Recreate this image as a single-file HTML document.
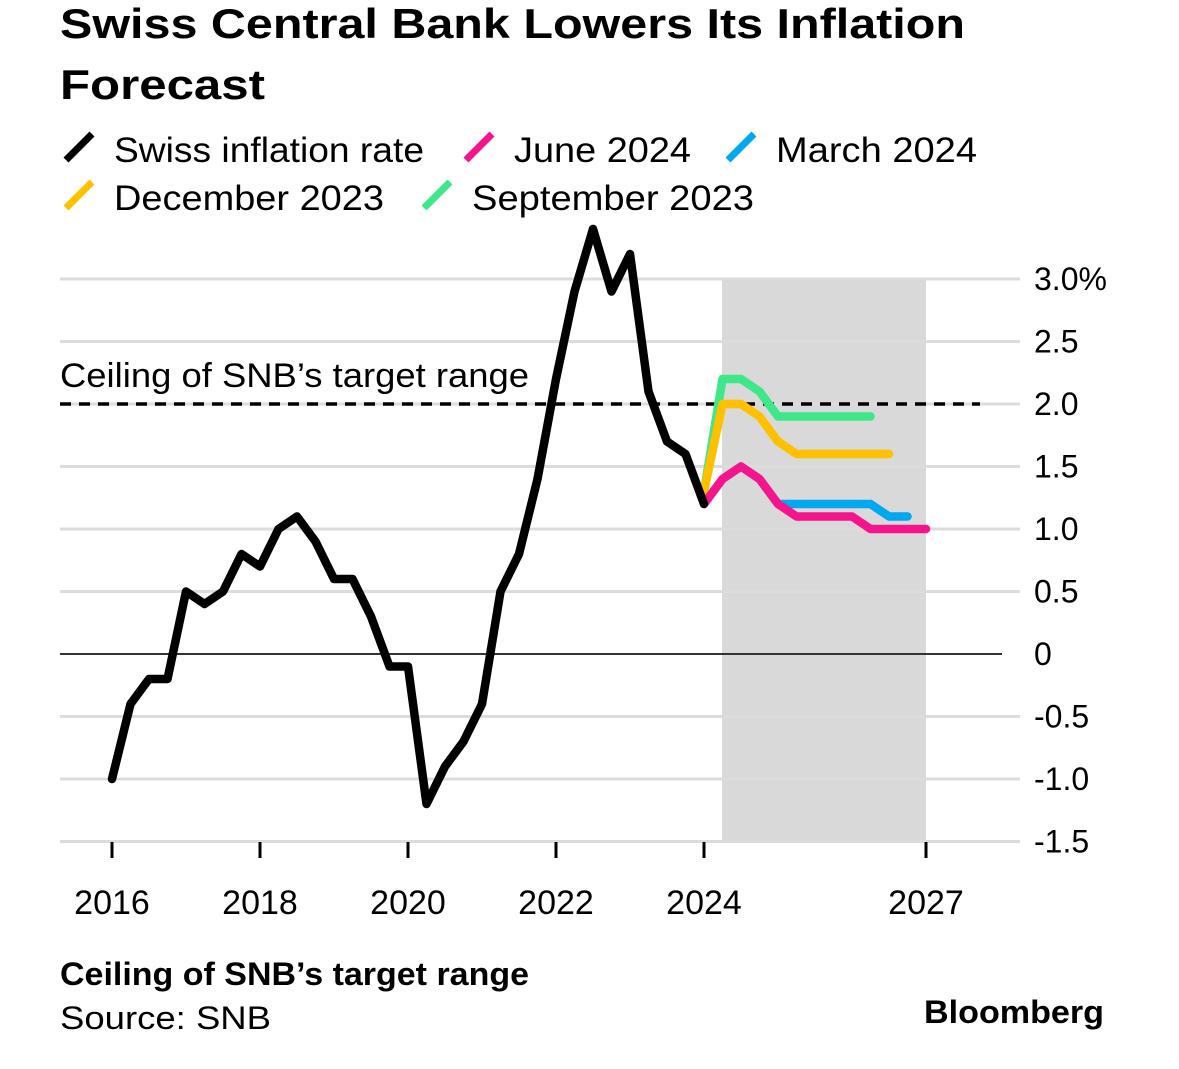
<!DOCTYPE html>
<html><head><meta charset="utf-8"><style>
body{margin:0;background:#fff;width:1179px;height:1069px;overflow:hidden;font-family:"Liberation Sans",Arial,sans-serif}
svg{position:absolute;left:0;top:0}
</style></head><body>
<svg width="1179" height="1069">
<text x="60" y="38" font-size="42" font-weight="bold" fill="#000" textLength="905" lengthAdjust="spacingAndGlyphs">Swiss Central Bank Lowers Its Inflation</text>
<text x="60" y="99" font-size="42" font-weight="bold" fill="#000" textLength="205" lengthAdjust="spacingAndGlyphs">Forecast</text>
<g id="legend"></g>
<rect x="722" y="279" width="204" height="562" fill="#d9d9d9"/>
<g id="grid"></g>
<text x="60" y="387" font-size="34" fill="#000" textLength="469" lengthAdjust="spacingAndGlyphs">Ceiling of SNB’s target range</text>
<g id="series"></g>
<text x="60" y="985" font-size="32" font-weight="bold" fill="#000" textLength="469" lengthAdjust="spacingAndGlyphs">Ceiling of SNB’s target range</text>
<text x="60" y="1029" font-size="32" fill="#000" textLength="211" lengthAdjust="spacingAndGlyphs">Source: SNB</text>
<text x="924" y="1023" font-size="32" font-weight="bold" fill="#000" textLength="180" lengthAdjust="spacingAndGlyphs">Bloomberg</text>
</svg>
<script>
const yTicks=[3.0,2.5,2.0,1.5,1.0,0.5,0,-0.5,-1.0,-1.5];
const yLabels=["3.0%","2.5","2.0","1.5","1.0","0.5","0","-0.5","-1.0","-1.5"];
const xTicks=[2016,2018,2020,2022,2024,2027];
const ceiling=2.0;
const cpiStart=2016;
const cpi=[-1.0,-0.4,-0.2,-0.2,0.5,0.4,0.5,0.8,0.7,1.0,1.1,0.9,0.6,0.6,0.3,-0.1,-0.1,-1.2,-0.9,-0.7,-0.4,0.5,0.8,1.4,2.2,2.9,3.4,2.9,3.2,2.1,1.7,1.6,1.2];
const fStart=2024;
const sep23=[1.3,2.2,2.2,2.1,1.9,1.9,1.9,1.9,1.9,1.9];
const dec23=[1.3,2.0,2.0,1.9,1.7,1.6,1.6,1.6,1.6,1.6,1.6];
const mar24=[1.2,1.4,1.5,1.4,1.2,1.2,1.2,1.2,1.2,1.2,1.1,1.1];
const jun24=[1.2,1.4,1.5,1.4,1.2,1.1,1.1,1.1,1.1,1.0,1.0,1.0,1.0];
const xs=t=>112+(t-2016)*74;
const ys=v=>654-v*125;
const NS="http://www.w3.org/2000/svg";
function mk(tag,attrs,parent){const e=document.createElementNS(NS,tag);for(const k in attrs)e.setAttribute(k,attrs[k]);parent.appendChild(e);return e;}
const grid=document.getElementById('grid');
yTicks.forEach((v,i)=>{
 if(v!==0){const l=mk('line',{x1:60,x2:1020,y1:ys(v),y2:ys(v),stroke:'#dcdcdc','stroke-width':3},grid);
 
 }
 const t=mk('text',{x:1034,y:ys(v)+11,'font-size':32,fill:'#000'},grid);t.textContent=yLabels[i];
 
 
});
const z=mk('line',{x1:60,x2:1002,y1:ys(0),y2:ys(0),stroke:'#333','stroke-width':2},grid);


const c=mk('line',{x1:60,x2:980,y1:ys(ceiling),y2:ys(ceiling),stroke:'#000','stroke-width':3.5,'stroke-dasharray':'11 8'},grid);


xTicks.forEach(yr=>{
 const tk=mk('line',{x1:xs(yr),x2:xs(yr),y1:842,y2:858,stroke:'#000','stroke-width':3},grid);
 
 
 const t=mk('text',{x:xs(yr),y:914,'font-size':34,fill:'#000','text-anchor':'middle'},grid);t.textContent=yr;
 
 
});
const ser=document.getElementById('series');
function line(arr,start,color,name){
 const pts=arr.map((v,i)=>xs(start+i*0.25)+','+ys(v)).join(' ');
 const p=mk('polyline',{points:pts,fill:'none',stroke:color,'stroke-width':8.5,'stroke-linejoin':'round','stroke-linecap':'round'},ser);
 
 
}
line(sep23,fStart,'#3ee88a','line-september-2023');
line(dec23,fStart,'#ffc000','line-december-2023');
line(mar24,fStart,'#00a8f0','line-march-2024');
line(jun24,fStart,'#f5148c','line-june-2024');
line(cpi,cpiStart,'#000','line-swiss-inflation');
const leg=document.getElementById('legend');
const items=[["Swiss inflation rate","#000",62,150,310],["June 2024","#f5148c",462,150,177],["March 2024","#00a8f0",724,150,201],["December 2023","#ffc000",62,198,270],["September 2023","#3ee88a",420,198,282]];
items.forEach(it=>{
 const l=mk('line',{x1:it[2]+4,y1:it[3]+10,x2:it[2]+30,y2:it[3]-16,stroke:it[1],'stroke-width':7},leg);
 
 
 const t=mk('text',{x:it[2]+52,y:it[3]+12,'font-size':35,fill:'#000',textLength:it[4],lengthAdjust:'spacingAndGlyphs'},leg);t.textContent=it[0];
 
 
});
</script>
</body></html>
